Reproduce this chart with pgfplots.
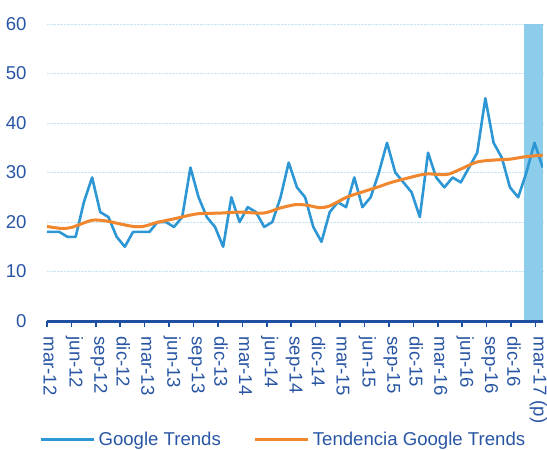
\documentclass[border=0pt]{standalone}
\usepackage{fontspec}
\setmainfont{Liberation Sans}
\usepackage{pgfplots}
\pgfplotsset{compat=1.18}
\definecolor{gtblue}{RGB}{45,150,212}
\definecolor{gtorange}{RGB}{240,134,46}
\definecolor{barblue}{RGB}{141,205,236}
\definecolor{axisblue}{RGB}{31,79,160}
\definecolor{txtblue}{RGB}{40,86,164}
\definecolor{gridblue}{RGB}{197,227,243}
\begin{document}
\begin{tikzpicture}
\useasboundingbox (-47pt,-129pt) rectangle (500pt,321pt);
\begin{axis}[
  scale only axis,
  width=496pt, height=297pt,
  xmin=0, xmax=60.93,
  ymin=0, ymax=60,
  axis x line*=bottom,
  axis y line*=left,
  x axis line style={line width=3pt, color=axisblue},
  y axis line style={draw=none},
  xtick={0,3,...,60},
  xticklabels={mar-12,jun-12,sep-12,dic-12,mar-13,jun-13,sep-13,dic-13,mar-14,jun-14,sep-14,dic-14,mar-15,jun-15,sep-15,dic-15,mar-16,jun-16,sep-16,dic-16,mar-17 (p)},
  tick align=outside,
  major tick length=6pt,
  xtick style={line width=1.6pt, color=axisblue},
  ytick style={draw=none},
  ytick={0,10,...,60},
  ymajorgrids,
  major grid style={densely dotted, line width=0.7pt, color=gridblue},
  every tick label/.append style={font=\fontsize{18.6}{22}\selectfont, text=txtblue},
  /pgf/number format/assume math mode=true,
  xticklabel style={xshift=3pt, yshift=-6pt, rotate=-90, anchor=west},
  yticklabel style={xshift=-11pt},
  legend columns=2,
  legend style={draw=none, fill=none, font=\fontsize{18.6}{22}\selectfont, text=txtblue,
    at={(axis description cs:0.478,-0.40)}, anchor=center,
    nodes={inner sep=3pt},
    /tikz/every even column/.append style={column sep=30pt}},
  legend image code/.code={\draw[#1] (0pt,0pt) -- (53pt,0pt);},
]
\addplot[fill=barblue, draw=none, forget plot] coordinates {(58.6,0.3) (58.6,60) (60.93,60) (60.93,0.3)} -- cycle;

\addplot[color=gtblue, line width=2.6pt, line join=round] coordinates {
(0,18) (1.51,18) (2.52,17) (3.52,17) (4.53,24) (5.54,29) (6.54,22) (7.55,21) (8.56,17) (9.56,15)
(10.57,18) (11.58,18) (12.58,18) (13.59,20) (14.60,20) (15.60,19) (16.61,21) (17.62,31) (18.62,25) (19.63,21)
(20.64,19) (21.64,15) (22.65,25) (23.66,20) (24.66,23) (25.67,22) (26.68,19) (27.68,20) (28.69,25) (29.69,32)
(30.70,27) (31.71,25) (32.71,19) (33.72,16) (34.73,22) (35.73,24) (36.74,23) (37.75,29) (38.75,23) (39.76,25)
(40.77,30) (41.77,36) (42.78,30) (43.79,28) (44.79,26) (45.80,21) (46.81,34) (47.81,29) (48.82,27) (49.83,29)
(50.83,28) (51.84,31) (52.85,34) (53.85,45) (54.86,36) (55.87,33) (56.87,27) (57.88,25) (58.89,30) (59.89,36)
(60.90,31)
};
\addlegendentry{Google Trends}

\addplot[color=gtorange, line width=3pt, smooth] coordinates {
(0,19.1) (1.8,18.7) (3.0,18.9) (4.5,19.8) (5.7,20.4) (7.3,20.2) (9.0,19.6) (10.6,19.1) (11.8,19.1)
(13.5,19.9) (15.5,20.6) (17.6,21.4) (18.8,21.7) (21.3,21.8) (23.7,22.0) (26.6,21.8) (28.6,22.8)
(30.5,23.5) (31.9,23.4) (33.5,22.9) (34.8,23.3) (36.8,25.0) (38.8,26.1) (40.9,27.2) (42.1,27.9)
(44.6,29.0) (46.6,29.7) (49.1,29.6) (50.7,30.6) (52.8,32.1) (54.8,32.5) (56.9,32.7) (58.8,33.2) (60.9,33.5)
};
\addlegendentry{Tendencia Google Trends}
\end{axis}
\end{tikzpicture}
\end{document}
